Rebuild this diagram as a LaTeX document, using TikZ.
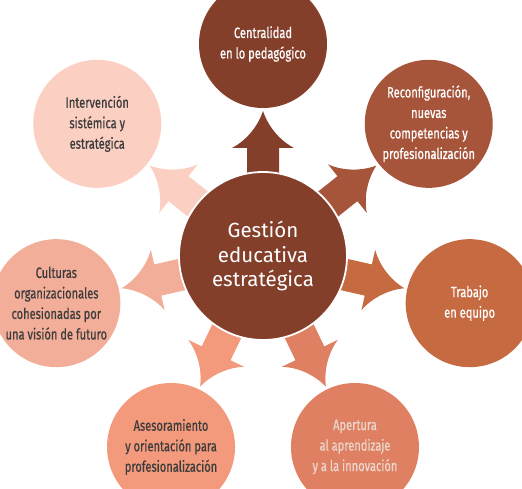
\documentclass[tikz,border=0pt]{standalone}
\usepackage{fontspec}
\setmainfont{Fira Sans}
\newfontfamily\condsans[FakeStretch=0.74, FakeBold=0.6]{Fira Sans}

\definecolor{gBrown}{HTML}{843F2B}
\definecolor{gRust}{HTML}{A6543A}
\definecolor{gCopper}{HTML}{C66A42}
\definecolor{gSalmon}{HTML}{E08062}
\definecolor{gPeach}{HTML}{F39A7C}
\definecolor{gRose}{HTML}{F2AE98}
\definecolor{gBlush}{HTML}{FBCFC1}
\definecolor{gInk}{HTML}{3C3C3C}
\definecolor{gPale}{HTML}{EBD7CD}

\begin{document}
\begin{tikzpicture}[x=1pt, y=1pt,
  hub/.style={circle, fill=gBrown, draw=white, line width=1.8pt, minimum size=168pt,
    inner sep=0pt, text=white, align=center, font=\fontsize{20.5}{24.5}\selectfont},
  leaf/.style={circle, minimum size=128pt, inner sep=0pt, align=center,
    font=\condsans\fontsize{15}{20.5}\selectfont}]
  \useasboundingbox (0,0) rectangle (522,488);
  \def\dist{212}
  \coordinate (hc) at (263,232);
  % outer circles and block arrows, clockwise from the top
  \foreach \nm/\col/\tc/\txt [count=\i from 0] in {
      cen/gBrown/white/{Centralidad\\en lo pedagógico},
      rec/gRust/white/{Reconfiguración,\\nuevas\\competencias y\\profesionalización},
      tra/gCopper/white/{Trabajo\\en equipo},
      ape/gSalmon/gPale/{Apertura\\al aprendizaje\\y a la innovación},
      ase/gPeach/gInk/{Asesoramiento\\y orientación para\\profesionalización},
      cul/gRose/gInk/{Culturas\\organizacionales\\cohesionadas por\\una visión de futuro},
      int/gBlush/gInk/{Intervención\\sistémica y\\estratégica}} {
    \pgfmathsetmacro\a{90-\i*360/7}
    \node[leaf, fill=\col, text=\tc] (\nm) at ([shift={(\a:\dist)}]hc) {\txt};
    \begin{scope}[shift={(hc)}, rotate=\a]
      \fill[\col] (75,-16) -- (108,-16) -- (108,-31)
        .. controls (116,-16) and (130,-5) .. (145,0)
        .. controls (130,5) and (116,16) .. (108,31)
        -- (108,16) -- (75,16) -- cycle;
    \end{scope}
  }
  % centre
  \node[hub] (gest) at (hc) {Gestión\\educativa\\estratégica};
\end{tikzpicture}
\end{document}
